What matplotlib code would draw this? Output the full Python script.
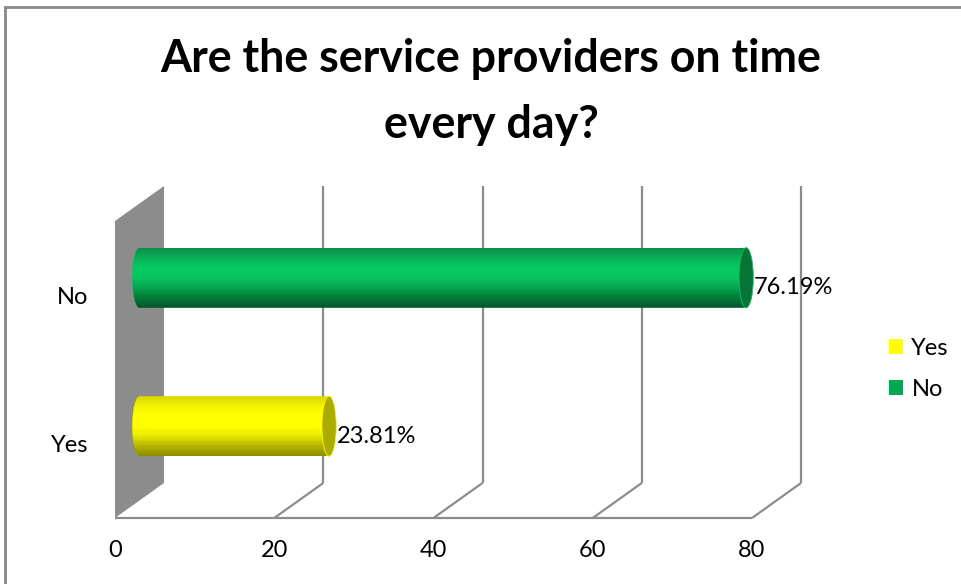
import matplotlib
matplotlib.use('Agg')
import matplotlib.pyplot as plt
import matplotlib.transforms as mtransforms
from matplotlib.patches import Ellipse, Polygon, Rectangle, PathPatch, Patch
from matplotlib.path import Path
from matplotlib.lines import Line2D
from matplotlib.colors import LinearSegmentedColormap
import numpy as np

# ---------------- data ----------------
categories = ['Yes', 'No']
values = [23.81, 76.19]
value_labels = ['23.81%', '76.19%']
x_ticks = [0, 20, 40, 60, 80]
title_lines = ['Are the service providers on time', 'every day?']

# ---------------- styles ----------------
W, H, DPI = 962, 584, 100
FONT = ['Lato', 'DejaVu Sans']
plt.rcParams['font.family'] = FONT
GRID = '#8c8c8c'
bar_grads = [
    ['#d8d800', '#f4f400', '#ffff00', '#ffff00', '#e8e800', '#b4b400', '#8e8e00'],
    ['#0b8f49', '#08b057', '#07c962', '#07c460', '#05a650', '#037c3a', '#02582a'],
]
cap_colors = ['#abab00', '#077536']
legend_colors = ['#ffff00', '#00a850']

fig = plt.figure(figsize=(W / DPI, H / DPI), dpi=DPI)

def px_axes(l, t, r, b):
    return fig.add_axes([l / W, 1 - b / H, (r - l) / W, (b - t) / H])

ax = px_axes(115, 221, 752, 518)
ax.set_autoscale_on(False)
ax.set_xlim(0, 80)
ax.set_ylim(-0.5, 1.5)
ax.patch.set_visible(False)
for s in ax.spines.values():
    s.set_visible(False)

DX, DY = 49, 35  # depth offset in pixels

def depth_t(d):
    return ax.transData + mtransforms.ScaledTranslation(d * DX / DPI, d * DY / DPI, fig.dpi_scale_trans)

def disp(x, y, d):
    return depth_t(d).transform((x, y))

ymin, ymax = ax.get_ylim()
ident = mtransforms.IdentityTransform()

# side wall at x = 0
wall = Polygon([disp(0, ymin, 0), disp(0, ymin, 1), disp(0, ymax, 1), disp(0, ymax, 0)],
               closed=True, facecolor=GRID, edgecolor='none', transform=ident, zorder=0,
               clip_on=False)
ax.add_artist(wall)

# floor front edge + diagonals + back gridlines
def add_line(p0, p1):
    ax.add_artist(Line2D([p0[0], p1[0]], [p0[1], p1[1]], color=GRID, lw=1.6,
                         transform=ident, zorder=0.5, solid_capstyle='butt', clip_on=False))

add_line(disp(x_ticks[0], ymin, 0), disp(x_ticks[-1], ymin, 0))
for xv in x_ticks[1:]:
    add_line(disp(xv, ymin, 0), disp(xv, ymin, 1))
    add_line(disp(xv, ymin, 1), disp(xv, ymax, 1))

# cylinders
half = depth_t(0.5)
h = 0.405
a = 0.9
N = 48
for i, (v, lab) in enumerate(zip(values, value_labels)):
    cmap = LinearSegmentedColormap.from_list('g%d' % i, bar_grads[i])
    th = np.linspace(np.pi / 2, 3 * np.pi / 2, 40)
    left = [(a * np.cos(t), i + h / 2 * np.sin(t)) for t in th]
    verts = [(v, i + h / 2)] + left + [(v, i - h / 2), (v, i + h / 2)]
    clip = PathPatch(Path(verts, closed=True), transform=half)
    ys = i + h / 2 - (np.arange(N) + 0.5) * h / N
    for k, yk in enumerate(ys):
        bars = ax.barh(yk, v + a, left=-a, height=h / N * 1.15, color=cmap(k / (N - 1)),
                       linewidth=0, transform=half, zorder=2)
        for p in bars:
            p.set_clip_path(clip)
    cap = Ellipse((v, i), 2 * a, h, transform=half, facecolor=cap_colors[i],
                  edgecolor=bar_grads[i][2], lw=0.6, zorder=3, clip_on=False)
    ax.add_patch(cap)
    ax.annotate(lab, xy=(v, i), xycoords=half, xytext=(8, -10), textcoords='offset pixels',
                ha='left', va='center', fontsize=17, color='black', zorder=4)

# axes ticks
ax.set_xticks(x_ticks)
ax.set_xticklabels([str(t) for t in x_ticks])
ax.set_yticks(range(len(categories)))
ax.set_yticklabels(categories)
ax.tick_params(axis='x', length=0, pad=16, labelsize=17)
ax.tick_params(axis='y', length=0, pad=19, labelsize=17)

# legend
handles = [Patch(facecolor=c, edgecolor='none') for c in legend_colors]
fig.legend(handles, categories, loc='center left', bbox_to_anchor=(889 / W, 1 - 369 / H),
           frameon=False, fontsize=17, handlelength=0.6, handleheight=0.6,
           handletextpad=0.35, labelspacing=0.85, borderpad=0, borderaxespad=0)

# title
fig.text(491 / W, 1 - 92 / H, '\n'.join(title_lines), ha='center', va='center',
         fontsize=32.2, fontweight='bold', linespacing=1.7)

# outer chart border
fig.add_artist(Rectangle((5 / W, -0.1), 1.2, 1 - 7 / H + 0.1, transform=fig.transFigure,
                         facecolor='none', edgecolor='#888888', lw=2, clip_on=False))

fig.savefig('out.png', dpi=DPI)
